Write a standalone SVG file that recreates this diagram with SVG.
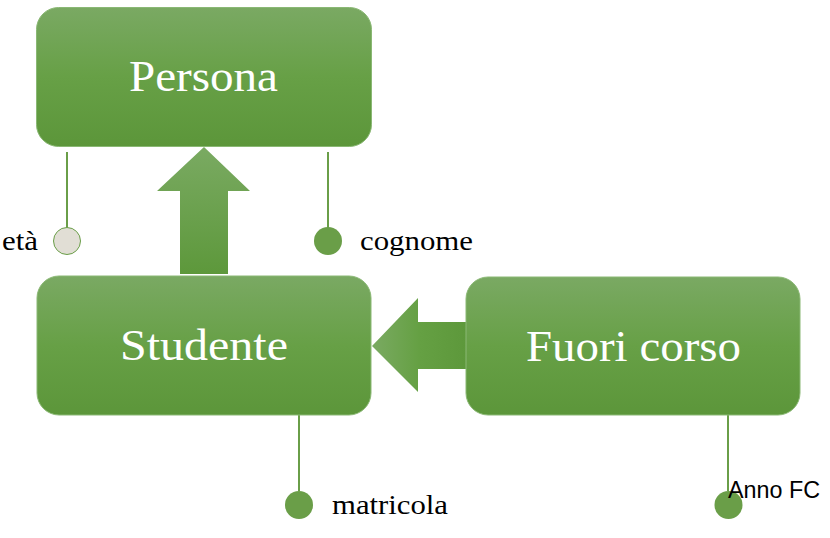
<svg xmlns="http://www.w3.org/2000/svg" width="830" height="538" viewBox="0 0 830 538">
  <defs>
    <linearGradient id="boxGrad" x1="0" y1="0" x2="0" y2="1">
      <stop offset="0" stop-color="#7aa963"/>
      <stop offset="0.5" stop-color="#67a046"/>
      <stop offset="1" stop-color="#5c963a"/>
    </linearGradient>
    <linearGradient id="upGrad" x1="0" y1="0" x2="0" y2="1">
      <stop offset="0" stop-color="#7aaa62"/>
      <stop offset="1" stop-color="#5d983b"/>
    </linearGradient>
    <linearGradient id="leftGrad" x1="0" y1="0" x2="1" y2="0">
      <stop offset="0" stop-color="#7aaa62"/>
      <stop offset="0.5" stop-color="#65a043"/>
      <stop offset="1" stop-color="#5d983b"/>
    </linearGradient>
    <style>
      .box { fill: url(#boxGrad); stroke: #8ab874; stroke-width: 1; }
      .boxtext { font-family: "Liberation Serif", "DejaVu Serif", serif; font-size: 45px; fill: #ffffff; }
      .label { font-family: "Liberation Serif", "DejaVu Serif", serif; font-size: 27px; fill: #000000; }
      .sans { font-family: "Liberation Sans", "DejaVu Sans", sans-serif; font-size: 23px; fill: #000000; }
      .line { stroke: #6a9e48; stroke-width: 2; fill: none; }
      .dot { fill: #6a9e48; }
      .dotEmpty { fill: #e1ded5; stroke: #6a9e48; stroke-width: 1; }
    </style>
  </defs>

  <g id="connectors">
    <polygon id="arrow-up" points="204,147 250,191 228,191 228,274 180,274 180,191 157,191" fill="url(#upGrad)"/>
    <polygon id="arrow-left" points="372,346 418,298 418,322 467,322 467,369 418,369 418,392" fill="url(#leftGrad)"/>
    <line class="line" x1="67" y1="152" x2="67" y2="228"/>
    <line class="line" x1="328" y1="152" x2="328" y2="228"/>
    <line class="line" x1="299" y1="415" x2="299" y2="491"/>
    <line class="line" x1="728" y1="415" x2="728" y2="491"/>
  </g>

  <g id="persona">
    <rect class="box" x="36.5" y="7.5" width="335" height="139" rx="22" ry="22"/>
    <text class="boxtext" x="129" y="91" textLength="149" lengthAdjust="spacingAndGlyphs">Persona</text>
  </g>

  <g id="studente">
    <rect class="box" x="37" y="276" width="334" height="139" rx="22" ry="22"/>
    <text class="boxtext" x="120" y="360" textLength="168" lengthAdjust="spacingAndGlyphs">Studente</text>
  </g>

  <g id="fuori-corso">
    <rect class="box" x="466" y="277" width="334" height="138" rx="22" ry="22"/>
    <text class="boxtext" x="526" y="361" textLength="215" lengthAdjust="spacingAndGlyphs">Fuori corso</text>
  </g>

  <g id="attr-eta">
    <circle class="dotEmpty" cx="67" cy="241" r="13.5"/>
    <text class="label" x="2" y="250" textLength="36" lengthAdjust="spacingAndGlyphs">età</text>
  </g>

  <g id="attr-cognome">
    <circle class="dot" cx="328" cy="241" r="14"/>
    <text class="label" x="360" y="250" textLength="113" lengthAdjust="spacingAndGlyphs">cognome</text>
  </g>

  <g id="attr-matricola">
    <circle class="dot" cx="299" cy="505" r="14"/>
    <text class="label" x="332" y="514" textLength="116" lengthAdjust="spacingAndGlyphs">matricola</text>
  </g>

  <g id="attr-annofc">
    <circle class="dot" cx="728.5" cy="505" r="14"/>
    <text class="sans" x="728" y="498" textLength="92" lengthAdjust="spacingAndGlyphs">Anno FC</text>
  </g>
</svg>
